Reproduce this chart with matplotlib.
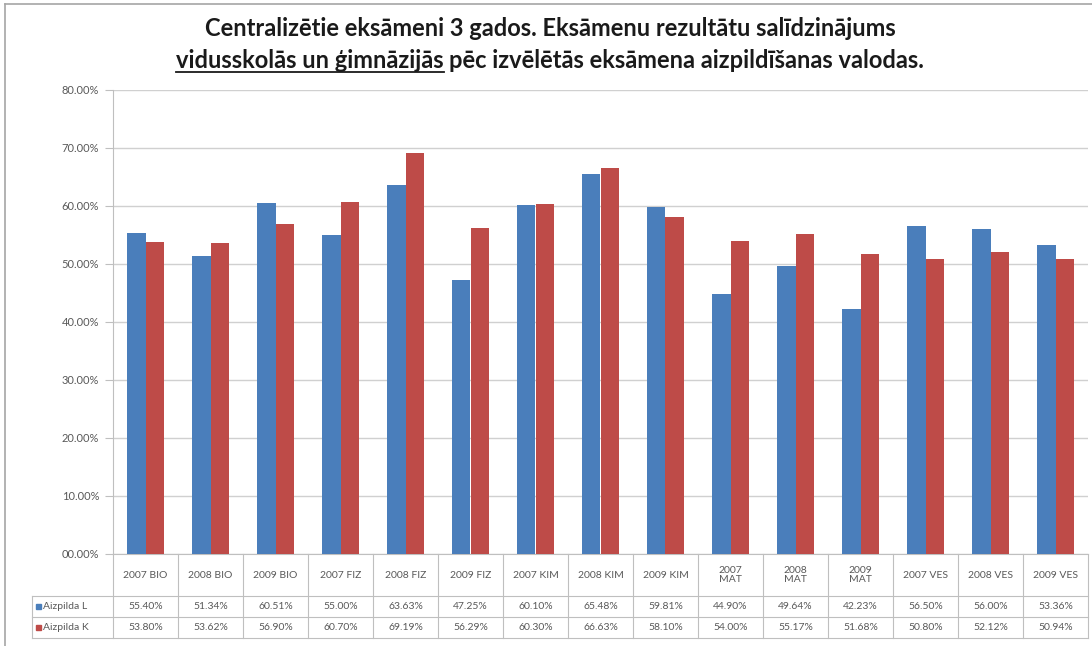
import matplotlib
matplotlib.use("Agg")
import matplotlib.pyplot as plt
import matplotlib.transforms as mtransforms
from matplotlib.lines import Line2D
from matplotlib.patches import Rectangle
from matplotlib.ticker import FuncFormatter
import numpy as np

plt.rcParams['font.family'] = ['Lato', 'DejaVu Sans']

W, H = 1092, 646

categories = ['2007 BIO', '2008 BIO', '2009 BIO', '2007 FIZ', '2008 FIZ',
              '2009 FIZ', '2007 KIM', '2008 KIM', '2009 KIM', '2007\nMAT',
              '2008\nMAT', '2009\nMAT', '2007 VES', '2008 VES', '2009 VES']
aizpilda_l = [55.40, 51.34, 60.51, 55.00, 63.63, 47.25, 60.10, 65.48, 59.81,
              44.90, 49.64, 42.23, 56.50, 56.00, 53.36]
aizpilda_k = [53.80, 53.62, 56.90, 60.70, 69.19, 56.29, 60.30, 66.63, 58.10,
              54.00, 55.17, 51.68, 50.80, 52.12, 50.94]
series_names = ['Aizpilda L', 'Aizpilda K']
y_ticks = [0, 10, 20, 30, 40, 50, 60, 70, 80]

BLUE = '#4A7EBB'
RED = '#BE4B48'
GRID = '#D0D0D0'
TXT = '#595959'
LINE = '#BFBFBF'


def px(x, y):
    """pixel position (top-left origin) -> figure fraction"""
    return x / W, 1 - y / H


fig = plt.figure(figsize=(W / 100, H / 100), dpi=100)

# plot area in pixels
left, right, top, bottom = 113, 1088, 90, 554
x0, y0 = px(left, bottom)
x1, y1 = px(right, top)
ax = fig.add_axes([x0, y0, x1 - x0, y1 - y0])

n = len(categories)
x = np.arange(n)
bw = 1 / 3.5
ax.bar(x - bw / 2, aizpilda_l, width=bw, color=BLUE, zorder=3)
ax.bar(x + bw / 2, aizpilda_k, width=bw, color=RED, zorder=3)

ax.set_xlim(-0.5, n - 0.5)
ax.set_ylim(0, 80)
ax.set_yticks(y_ticks)
ax.yaxis.set_major_formatter(FuncFormatter(lambda v, p: f'{v:05.2f}%'))
ax.grid(axis='y', color=GRID, lw=1, zorder=0)
ax.set_xticks([])
for s in ['top', 'right', 'bottom']:
    ax.spines[s].set_visible(False)
ax.spines['left'].set_color(LINE)
ax.tick_params(axis='y', length=6, color=LINE, labelsize=8,
               labelcolor=TXT, pad=4)

# data table under the plot area
ax_h = bottom - top
row_px = [bottom, 596, 617, 638]
rows = [-(r - bottom) / ax_h for r in row_px]
legend_left = -0.5 - (left - 32) / ((right - left) / n)
tr = mtransforms.blended_transform_factory(ax.transData, ax.transAxes)

# horizontal rules
ax.add_line(Line2D([-0.5, n - 0.5], [rows[0]] * 2, transform=tr,
                   clip_on=False, color=LINE, lw=0.8))
for r in rows[1:]:
    ax.add_line(Line2D([legend_left, n - 0.5], [r] * 2, transform=tr,
                       clip_on=False, color=LINE, lw=0.8))
# vertical rules
for k in range(n + 1):
    ax.add_line(Line2D([k - 0.5] * 2, [rows[-1], rows[0]], transform=tr,
                       clip_on=False, color=LINE, lw=0.8))
ax.add_line(Line2D([legend_left] * 2, [rows[-1], rows[1]], transform=tr,
                   clip_on=False, color=LINE, lw=0.8))

for k, cat in enumerate(categories):
    ax.text(k, (rows[0] + rows[1]) / 2, cat, transform=tr, ha='center',
            va='center', fontsize=7.5, color=TXT, linespacing=1.1)
    ax.text(k, (rows[1] + rows[2]) / 2, f'{aizpilda_l[k]:.2f}%', transform=tr,
            ha='center', va='center', fontsize=7.5, color=TXT)
    ax.text(k, (rows[2] + rows[3]) / 2, f'{aizpilda_k[k]:.2f}%', transform=tr,
            ha='center', va='center', fontsize=7.5, color=TXT)

# series keys in the first table column
for i, (name, col) in enumerate(zip(series_names, [BLUE, RED])):
    yc = (rows[1 + i] + rows[2 + i]) / 2
    ycen = ax.transAxes.transform((0, yc))[1] / H
    fig.add_artist(Rectangle((36 / W, ycen - 2.5 / H), 5 / W, 5 / H,
                             color=col, transform=fig.transFigure))
    fig.text(43 / W, ycen, name, ha='left', va='center', fontsize=7.5,
             color=TXT)

# frame around the chart
fig.add_artist(Line2D([5 / W, 5 / W], [0, 1 - 4 / H], color='#A6A6A6', lw=1.2))
fig.add_artist(Line2D([5 / W, 1], [1 - 4 / H] * 2, color='#A6A6A6', lw=1.2))

# title, second line partly underlined
title1 = 'Centralizētie eksāmeni 3 gados. Eksāmenu rezultātu salīdzinājums'
title_u = 'vidusskolās un ģimnāzijās'
title_rest = 'pēc izvēlētās eksāmena aizpildīšanas valodas.'
tfont = dict(fontsize=17, fontweight='bold', color='#1a1a1a')
cx = 550 / W
fig.text(cx, 1 - 36 / H, title1, ha='center', va='baseline', **tfont)

renderer = fig.canvas.get_renderer()
full = fig.text(0, 0, title_u + ' ' + title_rest, **tfont)
part = fig.text(0, 0, title_u, **tfont)
w_full = full.get_window_extent(renderer).width / W
w_part = part.get_window_extent(renderer).width / W
full.remove()
part.remove()

base2 = 1 - 68 / H
lx = cx - w_full / 2
fig.text(lx, base2, title_u, ha='left', va='baseline', **tfont)
fig.text(lx + w_full, base2, title_rest, ha='right', va='baseline', **tfont)
fig.add_artist(Line2D([lx, lx + w_part], [base2 - 4 / H] * 2,
                      color='#1a1a1a', lw=1.3))

fig.savefig('out.png', dpi=100)
